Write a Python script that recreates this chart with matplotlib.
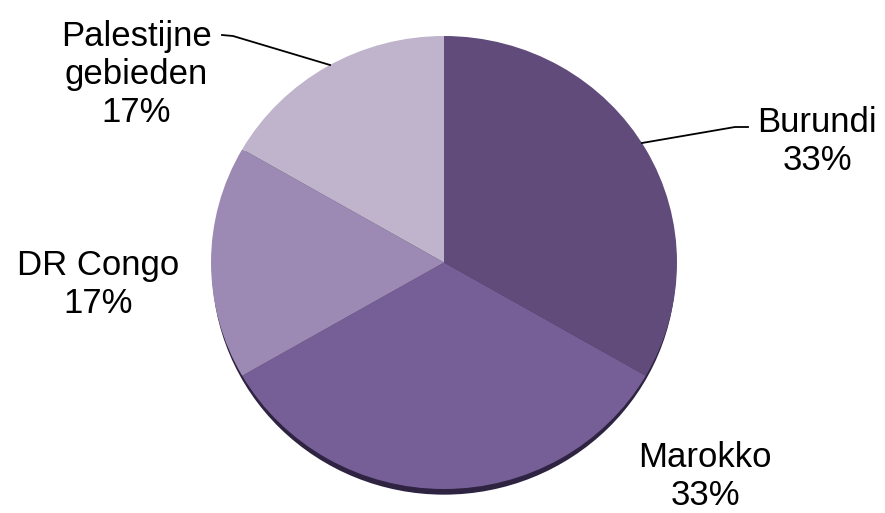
import matplotlib
matplotlib.use("Agg")
import matplotlib.pyplot as plt
from matplotlib.patches import Ellipse

categories = ["Burundi", "Marokko", "DR Congo", "Palestijne\ngebieden"]
values = [2, 2, 1, 1]
colors = ["#604b7b", "#765e96", "#9c8ab4", "#bfb4cc"]

W, H = 885, 513
fig = plt.figure(figsize=(W / 100, H / 100), dpi=100)
ax = fig.add_axes([0, 0, 1, 1])
ax.axis("off")

cx, cy, rx, ry = 444, 262.5, 233, 226.5

# shadow under the pie
ax.add_patch(Ellipse((0, -0.025), 1.99, 2.0, facecolor="#2e2341", edgecolor="none", zorder=0))
wedges, _ = ax.pie(values, colors=colors, startangle=90, counterclock=False,
                   wedgeprops=dict(linewidth=0), radius=1.0)
for w in wedges:
    w.set_zorder(1)
ax.set_aspect("auto")
ax.set_xlim(-cx / rx, (W - cx) / rx)
ax.set_ylim(-(H - cy) / ry, cy / ry)

total = sum(values)
labels = [f"{c}\n{round(v / total * 100)}%" for c, v in zip(categories, values)]

# label positions in pixels (center x, last-line baseline y)
pos = [(817, 170), (705, 505), (98, 313), (136, 122)]
for lab, (px, py) in zip(labels, pos):
    fig.text(px / W, 1 - py / H, lab, ha="center", va="baseline",
             fontsize=25, family="Liberation Sans", color="black", linespacing=1.2)

def pline(pts):
    xs = [p[0] / W for p in pts]
    ys = [1 - p[1] / H for p in pts]
    fig.add_artist(plt.Line2D(xs, ys, color="black", lw=1.3, transform=fig.transFigure))

pline([(642, 143), (735, 127), (748, 127)])
pline([(222, 35), (233, 36), (330, 65)])

fig.savefig("out.png", dpi=100)
